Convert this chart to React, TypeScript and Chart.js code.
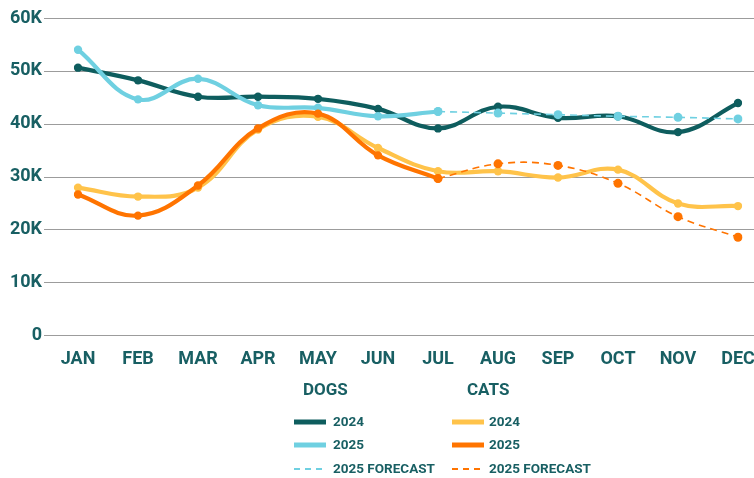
import React, { useEffect, useRef } from "react";
import { Chart, registerables } from "chart.js";

Chart.register(...registerables);

const months = ["JAN", "FEB", "MAR", "APR", "MAY", "JUN", "JUL", "AUG", "SEP", "OCT", "NOV", "DEC"];
const yTicks = [0, 10000, 20000, 30000, 40000, 50000, 60000];

const dogs2024 = [50600, 48200, 45100, 45100, 44700, 42800, 39100, 43200, 41100, 41400, 38400, 43900];
const dogs2025 = [54000, 44600, 48500, 43500, 43000, 41400, 42300, null, null, null, null, null];
const dogsForecast = [null, null, null, null, null, null, 42300, 42000, 41700, 41400, 41200, 40900];
const cats2024 = [27900, 26200, 27900, 38900, 41300, 35400, 31000, 31000, 29800, 31300, 24900, 24400];
const cats2025 = [26600, 22600, 28300, 39100, 41900, 34000, 29600, null, null, null, null, null];
const catsForecast = [null, null, null, null, null, null, 29600, 32400, 32100, 28700, 22400, 18500];

const TEXT = "#185f63";
const DOG24 = "#0e5d5e";
const DOG25 = "#6fd0e1";
const CAT24 = "#ffc34a";
const CAT25 = "#ff7400";
const GRID = "#9c9c9c";
const FONT = "Roboto";

const legendGroups = [
  { title: "DOGS", items: [
    { label: "2024", color: DOG24, dash: false },
    { label: "2025", color: DOG25, dash: false },
    { label: "2025 FORECAST", color: DOG25, dash: true },
  ] },
  { title: "CATS", items: [
    { label: "2024", color: CAT24, dash: false },
    { label: "2025", color: CAT25, dash: false },
    { label: "2025 FORECAST", color: CAT25, dash: true },
  ] },
];

const gridPlugin = {
  id: "fullGrid",
  beforeDatasetsDraw(chart: any) {
    const { ctx, scales } = chart;
    const y = scales.y;
    ctx.save();
    ctx.strokeStyle = GRID;
    ctx.lineWidth = 1.2;
    y.ticks.forEach((t: any) => {
      const py = Math.round(y.getPixelForValue(t.value)) + 0.5;
      ctx.beginPath();
      ctx.moveTo(44, py);
      ctx.lineTo(chart.width, py);
      ctx.stroke();
    });
    ctx.restore();
  },
};

const legendPlugin = {
  id: "groupLegend",
  afterDraw(chart: any) {
    const { ctx } = chart;
    ctx.save();
    const colX = [{ head: 303, sw: 294, tx: 333 }, { head: 467, sw: 452, tx: 489 }];
    const rowY = [422, 445, 469];
    legendGroups.forEach((g, gi) => {
      const c = colX[gi];
      ctx.fillStyle = TEXT;
      ctx.font = `bold 17px ${FONT}`;
      ctx.textBaseline = "middle";
      ctx.textAlign = "left";
      ctx.fillText(g.title, c.head, 391);
      g.items.forEach((it, ii) => {
        const yy = rowY[ii];
        ctx.strokeStyle = it.color;
        if (it.dash) {
          ctx.lineWidth = 2;
          ctx.setLineDash([6, 5]);
        } else {
          ctx.lineWidth = 5;
          ctx.setLineDash([]);
        }
        ctx.beginPath();
        ctx.moveTo(c.sw, yy);
        ctx.lineTo(c.sw + 32, yy);
        ctx.stroke();
        ctx.setLineDash([]);
        ctx.fillStyle = TEXT;
        ctx.font = `bold 13.5px ${FONT}`;
        ctx.fillText(it.label, c.tx, yy + 1);
      });
    });
    ctx.restore();
  },
};

function solid(label: string, data: (number | null)[], color: string, order: number) {
  return {
    label,
    data,
    borderColor: color,
    backgroundColor: color,
    pointBackgroundColor: color,
    pointBorderColor: color,
    borderWidth: 4.2,
    pointRadius: 4.2,
    pointBorderWidth: 0,
    tension: 0.4,
    spanGaps: false,
    order,
  };
}

function dashed(label: string, data: (number | null)[], color: string, order: number) {
  return {
    label,
    data,
    borderColor: color,
    backgroundColor: color,
    pointBackgroundColor: color,
    pointBorderColor: color,
    borderWidth: 1.6,
    borderDash: [7, 5],
    pointRadius: 4.5,
    pointBorderWidth: 0,
    tension: 0.4,
    order,
  };
}

export default function App() {
  const ref = useRef<HTMLCanvasElement | null>(null);
  useEffect(() => {
    if (!ref.current) return;
    const chart = new Chart(ref.current, {
      type: "line",
      data: {
        labels: months,
        datasets: [
          solid("DOGS 2024", dogs2024, DOG24, 6),
          solid("DOGS 2025", dogs2025, DOG25, 5),
          dashed("DOGS 2025 FORECAST", dogsForecast, DOG25, 4),
          solid("CATS 2024", cats2024, CAT24, 3),
          solid("CATS 2025", cats2025, CAT25, 2),
          dashed("CATS 2025 FORECAST", catsForecast, CAT25, 1),
        ] as any,
      },
      options: {
        animation: false,
        responsive: false,
        devicePixelRatio: 1,
        layout: { padding: { top: 18, right: 16, bottom: 0, left: 0 } },
        plugins: { legend: { display: false }, tooltip: { enabled: false } },
        scales: {
          x: {
            offset: false,
            grid: { display: false, drawTicks: false },
            border: { display: false },
            ticks: {
              color: TEXT,
              font: { family: FONT, size: 18, weight: "bold" },
              padding: 14,
              maxRotation: 0,
              autoSkip: false,
            },
            afterFit(scale: any) {
              scale.height = 143;
              scale.paddingLeft = 0;
              scale.paddingRight = 0;
            },
          },
          y: {
            min: 0,
            max: 60000,
            grid: { display: false, drawTicks: false },
            border: { display: false },
            afterBuildTicks(scale: any) {
              scale.ticks = yTicks.map((v) => ({ value: v }));
            },
            ticks: {
              color: TEXT,
              font: { family: FONT, size: 18, weight: "bold" },
              padding: 36,
              callback: (v: any) => (v === 0 ? "0" : `${v / 1000}K`),
            },
            afterFit(scale: any) {
              scale.width = 78;
              scale.paddingTop = 0;
              scale.paddingBottom = 0;
            },
          },
        },
      } as any,
      plugins: [gridPlugin, legendPlugin],
    });
    return () => chart.destroy();
  }, []);
  return (
    <div style={{ position: "fixed", left: 0, top: 0, width: 754, height: 478, background: "#fff" }}>
      <canvas ref={ref} width={754} height={478} style={{ display: "block" }} />
    </div>
  );
}
